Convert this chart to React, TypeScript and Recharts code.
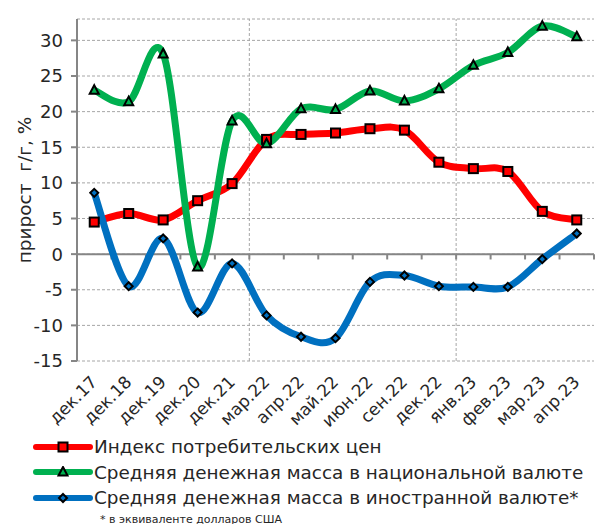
import React from 'react';
import {
  LineChart,
  Line,
  XAxis,
  YAxis,
  CartesianGrid,
  ReferenceLine,
} from 'recharts';

const categories = [
  'дек.17', 'дек.18', 'дек.19', 'дек.20', 'дек.21', 'мар.22', 'апр.22', 'май.22',
  'июн.22', 'сен.22', 'дек.22', 'янв.23', 'фев.23', 'мар.23', 'апр.23',
];
const cpi = [4.5, 5.7, 4.8, 7.5, 9.9, 16.1, 16.8, 17.0, 17.6, 17.4, 12.9, 12.0, 11.6, 6.0, 4.8];
const national = [23.0, 21.4, 28.1, -1.8, 18.7, 15.5, 20.4, 20.3, 22.9, 21.5, 23.2, 26.5, 28.3, 32.0, 30.5];
const foreign = [8.6, -4.5, 2.2, -8.2, -1.3, -8.6, -11.6, -11.8, -3.9, -3.0, -4.5, -4.6, -4.6, -0.7, 2.9];
const yTicks = [-15, -10, -5, 0, 5, 10, 15, 20, 25, 30];
// boundaries between categories where the vertical dashed lines go
const dividers = [4.5, 10.5];

const FONT = '"DejaVu Sans", sans-serif';
const TEXT = '#262626';
const AXIS = '#868686';
const RED = '#ff0000';
const GREEN = '#00b050';
const BLUE = '#0070c0';

const data = categories.map((c, i) => ({
  i,
  cpi: cpi[i],
  national: national[i],
  foreign: foreign[i],
}));

// Excel-like smoothed line (uniform Catmull-Rom as bezier)
const smoothCurve = (context: any) => {
  let pts: [number, number][] = [];
  return {
    areaStart() {},
    areaEnd() {},
    lineStart() {
      pts = [];
    },
    point(x: number, y: number) {
      pts.push([+x, +y]);
    },
    lineEnd() {
      const n = pts.length;
      if (!n) return;
      context.moveTo(pts[0][0], pts[0][1]);
      for (let k = 0; k < n - 1; k++) {
        const p0 = pts[Math.max(0, k - 1)];
        const p1 = pts[k];
        const p2 = pts[k + 1];
        const p3 = pts[Math.min(n - 1, k + 2)];
        context.bezierCurveTo(
          p1[0] + (p2[0] - p0[0]) / 6,
          p1[1] + (p2[1] - p0[1]) / 6,
          p2[0] - (p3[0] - p1[0]) / 6,
          p2[1] - (p3[1] - p1[1]) / 6,
          p2[0],
          p2[1],
        );
      }
    },
  };
};

type Shape = 'square' | 'triangle' | 'diamond';

function Marker({ cx, cy, shape, fill }: { cx: number; cy: number; shape: Shape; fill: string }) {
  if (shape === 'square') {
    return <rect x={cx - 4.5} y={cy - 4.5} width={9} height={9} fill={fill} stroke="#000" strokeWidth={2} />;
  }
  if (shape === 'triangle') {
    return (
      <polygon
        points={`${cx},${cy - 5} ${cx + 4.5},${cy + 3.5} ${cx - 4.5},${cy + 3.5}`}
        fill={fill}
        stroke="#000"
        strokeWidth={2}
        strokeLinejoin="miter"
      />
    );
  }
  return (
    <polygon
      points={`${cx},${cy - 4} ${cx + 4},${cy} ${cx},${cy + 4} ${cx - 4},${cy}`}
      fill={fill}
      stroke="#000"
      strokeWidth={2}
    />
  );
}

const makeDot = (shape: Shape, fill: string) => (props: any) => {
  const { cx, cy, index } = props;
  if (cx == null || cy == null) return <g key={index} />;
  return <Marker key={index} cx={cx} cy={cy} shape={shape} fill={fill} />;
};

const XTick = (props: any) => {
  const { x, y, payload } = props;
  const ax = x + 4;
  const ay = y + 14;
  return (
    <text
      x={ax}
      y={ay}
      transform={`rotate(-45, ${ax}, ${ay})`}
      textAnchor="end"
      fontSize={17}
      fontFamily={FONT}
      fill={TEXT}
    >
      {categories[payload.value]}
    </text>
  );
};

const legendItems = [
  { label: 'Индекс потребительских цен', color: RED, shape: 'square' as Shape },
  { label: 'Средняя денежная масса в национальной валюте', color: GREEN, shape: 'triangle' as Shape },
  { label: 'Средняя денежная масса в иностранной валюте*', color: BLUE, shape: 'diamond' as Shape },
];

export default function App() {
  return (
    <div style={{ position: 'absolute', left: 0, top: 0, width: 595, height: 524, background: '#fff' }}>
      <LineChart
        width={595}
        height={524}
        data={data}
        margin={{ top: 19, right: 1, left: 0, bottom: 0 }}
      >
        <CartesianGrid vertical={false} stroke="#a6a6a6" strokeDasharray="3 2" />
        <XAxis
          type="number"
          dataKey="i"
          domain={[-0.5, 14.5]}
          ticks={categories.map((_, i) => i)}
          interval={0}
          height={163}
          axisLine={false}
          tickLine={false}
          tick={<XTick />}
        />
        <YAxis
          width={77}
          domain={[-15, 33]}
          ticks={yTicks}
          interval={0}
          allowDataOverflow
          axisLine={{ stroke: AXIS, strokeWidth: 2 }}
          tickLine={{ stroke: AXIS, strokeWidth: 2 }}
          tickSize={6}
          tickMargin={8}
          tick={{ fontSize: 18, fill: TEXT, fontFamily: FONT }}
          label={{
            content: () => (
              <text
                x={24}
                y={190}
                transform="rotate(-90, 24, 190)"
                textAnchor="middle"
                dominantBaseline="central"
                fontSize={18.5}
                fontFamily={FONT}
                fill={TEXT}
              >
                {'прирост\u00a0 г/г, %'}
              </text>
            ),
          }}
        />
        {dividers.map((d) => (
          <ReferenceLine key={d} x={d} stroke="#a6a6a6" strokeDasharray="3 2" />
        ))}
        <ReferenceLine y={0} stroke={AXIS} strokeWidth={2} />
        {categories.map((_, i) => (
          <ReferenceLine
            key={'t' + i}
            segment={[
              { x: i + 0.5, y: 0 },
              { x: i + 0.5, y: -0.75 },
            ]}
            stroke={AXIS}
            strokeWidth={2}
          />
        ))}
        <Line
          dataKey="cpi"
          type={smoothCurve as any}
          stroke={RED}
          strokeWidth={7}
          dot={makeDot('square', RED)}
          activeDot={false}
          isAnimationActive={false}
        />
        <Line
          dataKey="national"
          type={smoothCurve as any}
          stroke={GREEN}
          strokeWidth={7}
          dot={makeDot('triangle', GREEN)}
          activeDot={false}
          isAnimationActive={false}
        />
        <Line
          dataKey="foreign"
          type={smoothCurve as any}
          stroke={BLUE}
          strokeWidth={7}
          dot={makeDot('diamond', BLUE)}
          activeDot={false}
          isAnimationActive={false}
        />
      </LineChart>
      <div style={{ position: 'absolute', left: 33, top: 434, fontFamily: FONT, color: TEXT }}>
        {legendItems.map((it) => (
          <div key={it.label} style={{ display: 'flex', alignItems: 'center', height: 25.5, fontSize: 18.4, whiteSpace: 'nowrap' }}>
            <svg width={60} height={12} style={{ marginRight: 1 }}>
              <line x1={3} y1={6} x2={57} y2={6} stroke={it.color} strokeWidth={6} strokeLinecap="round" />
              <Marker cx={30} cy={6} shape={it.shape} fill={it.color} />
            </svg>
            <span>{it.label}</span>
          </div>
        ))}
        <div style={{ fontSize: 11, marginLeft: 67, marginTop: 2 }}>* в эквиваленте долларов США</div>
      </div>
    </div>
  );
}
